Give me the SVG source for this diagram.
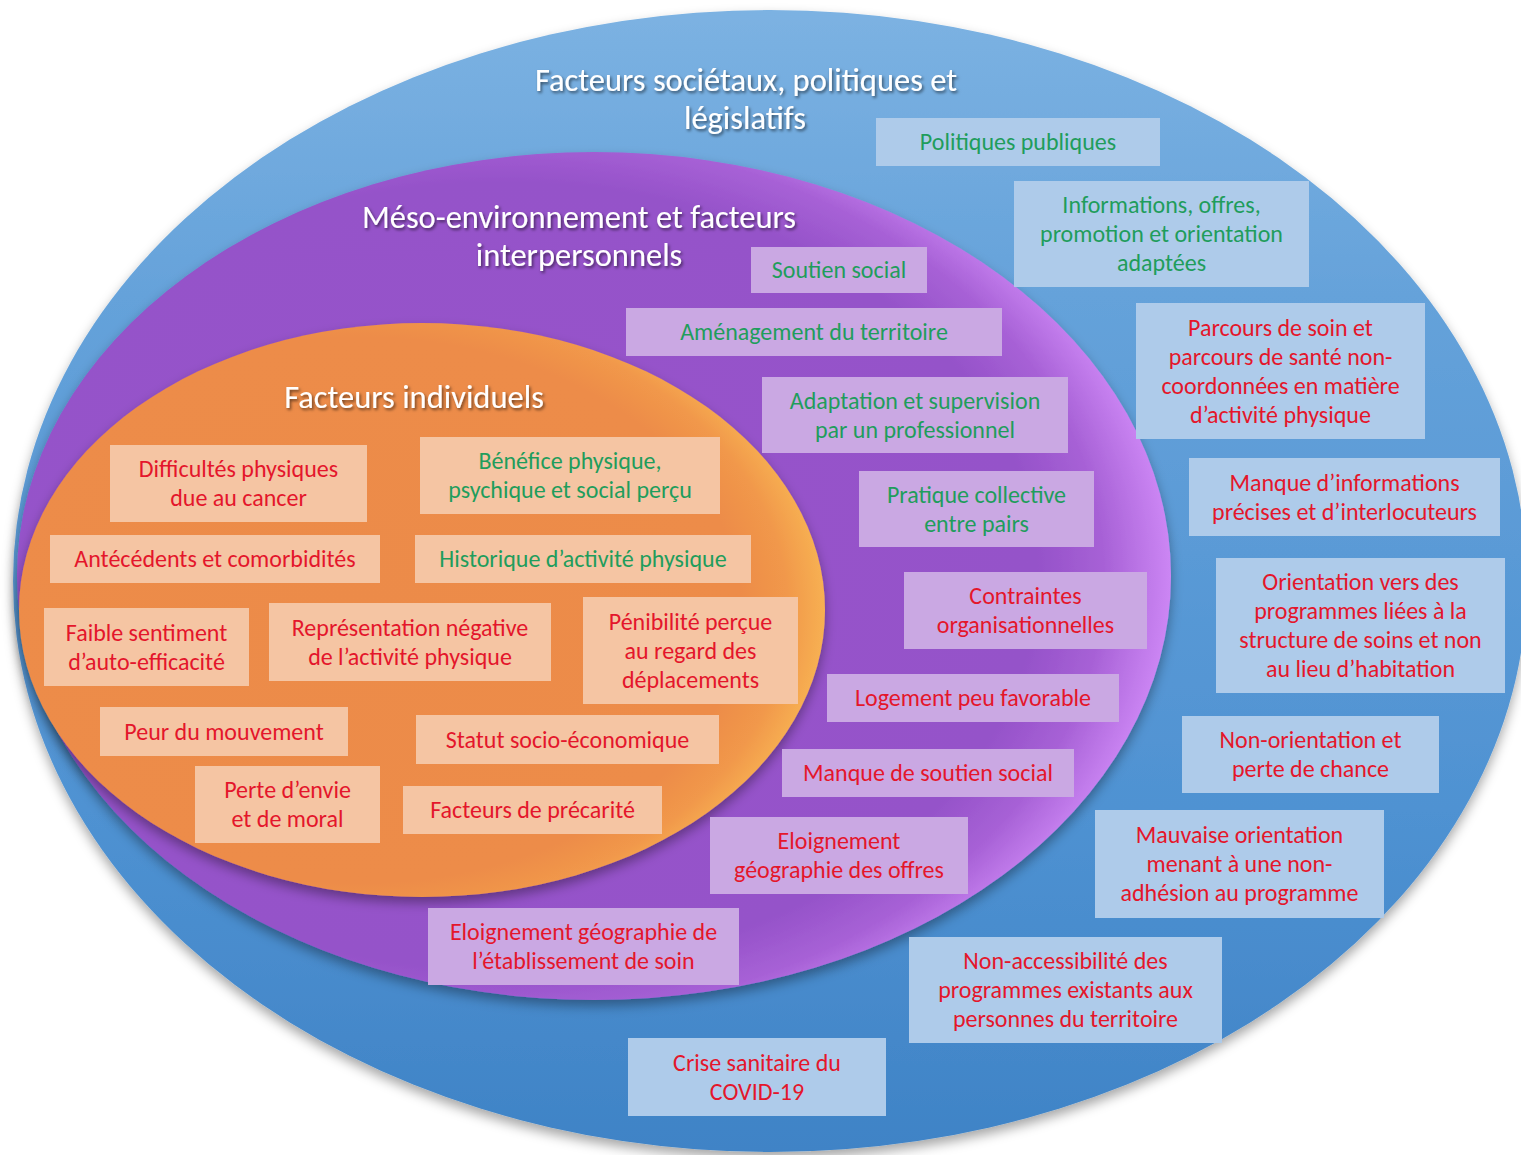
<svg xmlns="http://www.w3.org/2000/svg" width="1521" height="1155" viewBox="0 0 1521 1155">
<defs>
  <linearGradient id="gBlue" x1="0" y1="0" x2="0" y2="1">
    <stop offset="0" stop-color="#7cb2e2"/>
    <stop offset="0.25" stop-color="#65a2da"/>
    <stop offset="0.7" stop-color="#4f92d2"/>
    <stop offset="1" stop-color="#3f83c6"/>
  </linearGradient>
  <radialGradient id="gPurple" cx="0.42" cy="0.5" r="0.58">
    <stop offset="0" stop-color="#9752cb"/>
    <stop offset="0.8" stop-color="#9552c9"/>
    <stop offset="0.9" stop-color="#a761d6"/>
    <stop offset="1" stop-color="#cc86f4"/>
  </radialGradient>
  <radialGradient id="gOrange" cx="0.42" cy="0.5" r="0.58">
    <stop offset="0" stop-color="#ec8b48"/>
    <stop offset="0.82" stop-color="#ed8c48"/>
    <stop offset="0.92" stop-color="#f1984b"/>
    <stop offset="1" stop-color="#f7b052"/>
  </radialGradient>
  <filter id="shadow" x="-10%" y="-10%" width="120%" height="125%">
    <feDropShadow dx="0" dy="6" stdDeviation="6" flood-color="#000" flood-opacity="0.35"/>
  </filter>
  <filter id="tshadow" x="-10%" y="-30%" width="120%" height="160%">
    <feDropShadow dx="1.5" dy="2" stdDeviation="1.5" flood-color="#000" flood-opacity="0.55"/>
  </filter>
  <style>
    text { font-family: Carlito, Lato, "Open Sans", sans-serif; text-anchor: middle; }
    .title { fill: #ffffff; font-size: 32.5px; filter: url(#tshadow); }
    .lbl { font-size: 24px; }
    .g { fill: #1f9d5c; }
    .r { fill: #e4162b; }
    .bb { fill: #aecbea; }
    .pb { fill: #caa8e3; }
    .ob { fill: #f5c5a3; }
  </style>
</defs>
<rect x="0" y="0" width="1521" height="1155" fill="#ffffff"/>
<g id="layers">
  <ellipse id="layer-societal" cx="770" cy="581" rx="757" ry="571" fill="url(#gBlue)" filter="url(#shadow)"/>
  <ellipse id="layer-meso" cx="594" cy="576" rx="577" ry="424" fill="url(#gPurple)" filter="url(#shadow)"/>
  <ellipse id="layer-individual" cx="422" cy="610" rx="403" ry="287" fill="url(#gOrange)" filter="url(#shadow)"/>
</g>
<g id="titles">
  <text class="title" x="746" y="91">Facteurs sociétaux, politiques et</text>
  <text class="title" x="745" y="129">législatifs</text>
  <text class="title" x="579" y="228">Méso-environnement et facteurs</text>
  <text class="title" x="579" y="266">interpersonnels</text>
  <text class="title" x="414" y="408">Facteurs individuels</text>
</g>
<g id="connectors"/>
<g id="societal-nodes">
  <g id="n1"><rect class="bb" x="876" y="118" width="284" height="48"/><text class="lbl g" x="1018" y="150">Politiques publiques</text></g>
  <g id="n2"><rect class="bb" x="1014" y="181" width="295" height="106"/><text class="lbl g" x="1161.5" y="213">Informations, offres,</text><text class="lbl g" x="1161.5" y="242">promotion et orientation</text><text class="lbl g" x="1161.5" y="271">adaptées</text></g>
  <g id="n3"><rect class="bb" x="1136" y="303" width="289" height="136"/><text class="lbl r" x="1280.5" y="335.5">Parcours de soin et</text><text class="lbl r" x="1280.5" y="364.5">parcours de santé non-</text><text class="lbl r" x="1280.5" y="393.5">coordonnées en matière</text><text class="lbl r" x="1280.5" y="422.5">d’activité physique</text></g>
  <g id="n4"><rect class="bb" x="1189" y="458" width="311" height="78"/><text class="lbl r" x="1344.5" y="490.5">Manque d’informations</text><text class="lbl r" x="1344.5" y="519.5">précises et d’interlocuteurs</text></g>
  <g id="n5"><rect class="bb" x="1216" y="558" width="289" height="135"/><text class="lbl r" x="1360.5" y="589.5">Orientation vers des</text><text class="lbl r" x="1360.5" y="618.5">programmes liées à la</text><text class="lbl r" x="1360.5" y="647.5">structure de soins et non</text><text class="lbl r" x="1360.5" y="676.5">au lieu d’habitation</text></g>
  <g id="n6"><rect class="bb" x="1182" y="716" width="257" height="77"/><text class="lbl r" x="1310.5" y="748">Non-orientation et</text><text class="lbl r" x="1310.5" y="777">perte de chance</text></g>
  <g id="n7"><rect class="bb" x="1095" y="810" width="289" height="108"/><text class="lbl r" x="1239.5" y="843">Mauvaise orientation</text><text class="lbl r" x="1239.5" y="872">menant à une non-</text><text class="lbl r" x="1239.5" y="901">adhésion au programme</text></g>
  <g id="n8"><rect class="bb" x="909" y="937" width="313" height="106"/><text class="lbl r" x="1065.5" y="969">Non-accessibilité des</text><text class="lbl r" x="1065.5" y="998">programmes existants aux</text><text class="lbl r" x="1065.5" y="1027">personnes du territoire</text></g>
  <g id="n9"><rect class="bb" x="628" y="1038" width="258" height="78"/><text class="lbl r" x="757" y="1070.5">Crise sanitaire du</text><text class="lbl r" x="757" y="1099.5">COVID-19</text></g>
</g>
<g id="meso-nodes">
  <g id="n10"><rect class="pb" x="751" y="247" width="176" height="46"/><text class="lbl g" x="839" y="278">Soutien social</text></g>
  <g id="n11"><rect class="pb" x="626" y="308" width="376" height="48"/><text class="lbl g" x="814" y="340">Aménagement du territoire</text></g>
  <g id="n12"><rect class="pb" x="762" y="377" width="306" height="76"/><text class="lbl g" x="915" y="408.5">Adaptation et supervision</text><text class="lbl g" x="915" y="437.5">par un professionnel</text></g>
  <g id="n13"><rect class="pb" x="859" y="471" width="235" height="76"/><text class="lbl g" x="976.5" y="502.5">Pratique collective</text><text class="lbl g" x="976.5" y="531.5">entre pairs</text></g>
  <g id="n14"><rect class="pb" x="904" y="572" width="243" height="77"/><text class="lbl r" x="1025.5" y="604">Contraintes</text><text class="lbl r" x="1025.5" y="633">organisationnelles</text></g>
  <g id="n15"><rect class="pb" x="827" y="674" width="292" height="48"/><text class="lbl r" x="973" y="706">Logement peu favorable</text></g>
  <g id="n16"><rect class="pb" x="782" y="749" width="292" height="48"/><text class="lbl r" x="928" y="781">Manque de soutien social</text></g>
  <g id="n17"><rect class="pb" x="710" y="817" width="258" height="77"/><text class="lbl r" x="839" y="849">Eloignement</text><text class="lbl r" x="839" y="878">géographie des offres</text></g>
  <g id="n18"><rect class="pb" x="428" y="908" width="311" height="77"/><text class="lbl r" x="583.5" y="940">Eloignement géographie de</text><text class="lbl r" x="583.5" y="969">l’établissement de soin</text></g>
</g>
<g id="individual-nodes">
  <g id="n19"><rect class="ob" x="110" y="445" width="257" height="77"/><text class="lbl r" x="238.5" y="477">Difficultés physiques</text><text class="lbl r" x="238.5" y="506">due au cancer</text></g>
  <g id="n20"><rect class="ob" x="420" y="437" width="300" height="77"/><text class="lbl g" x="570" y="469">Bénéfice physique,</text><text class="lbl g" x="570" y="498">psychique et social perçu</text></g>
  <g id="n21"><rect class="ob" x="50" y="535" width="330" height="48"/><text class="lbl r" x="215" y="567">Antécédents et comorbidités</text></g>
  <g id="n22"><rect class="ob" x="415" y="535" width="336" height="48"/><text class="lbl g" x="583" y="567">Historique d’activité physique</text></g>
  <g id="n23"><rect class="ob" x="44" y="608" width="205" height="78"/><text class="lbl r" x="146.5" y="640.5">Faible sentiment</text><text class="lbl r" x="146.5" y="669.5">d’auto-efficacité</text></g>
  <g id="n24"><rect class="ob" x="269" y="603" width="282" height="78"/><text class="lbl r" x="410" y="635.5">Représentation négative</text><text class="lbl r" x="410" y="664.5">de l’activité physique</text></g>
  <g id="n25"><rect class="ob" x="583" y="597" width="215" height="107"/><text class="lbl r" x="690.5" y="629.5">Pénibilité perçue</text><text class="lbl r" x="690.5" y="658.5">au regard des</text><text class="lbl r" x="690.5" y="687.5">déplacements</text></g>
  <g id="n26"><rect class="ob" x="100" y="707" width="248" height="49"/><text class="lbl r" x="224" y="739.5">Peur du mouvement</text></g>
  <g id="n27"><rect class="ob" x="416" y="715" width="303" height="49"/><text class="lbl r" x="567.5" y="747.5">Statut socio-économique</text></g>
  <g id="n28"><rect class="ob" x="195" y="766" width="185" height="77"/><text class="lbl r" x="287.5" y="798">Perte d’envie</text><text class="lbl r" x="287.5" y="827">et de moral</text></g>
  <g id="n29"><rect class="ob" x="403" y="786" width="259" height="48"/><text class="lbl r" x="532.5" y="818">Facteurs de précarité</text></g>
</g>
</svg>
